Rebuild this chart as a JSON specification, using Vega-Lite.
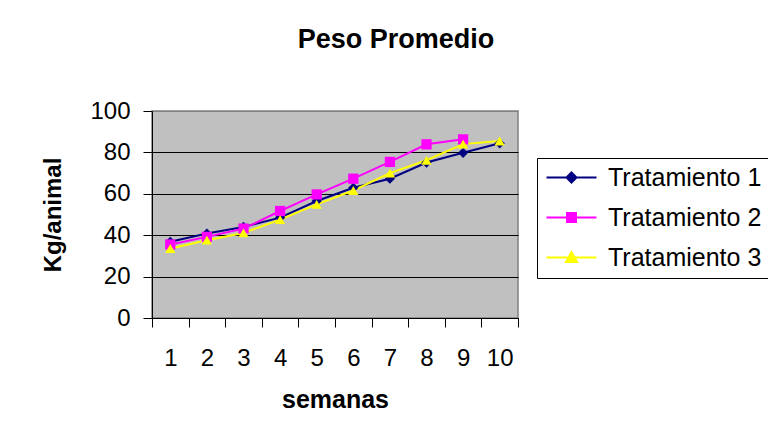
{
  "$schema": "https://vega.github.io/schema/vega-lite/v6.json",
  "autosize": {"type": "none"},
  "width": 366,
  "height": 207,
  "padding": {"left": 152, "top": 111, "right": 250, "bottom": 122},
  "background": "white",
  "title": {
    "text": "Peso Promedio",
    "font": "Liberation Sans",
    "fontSize": 27,
    "fontWeight": "bold",
    "color": "black",
    "anchor": "middle",
    "frame": "group",
    "baseline": "alphabetic",
    "dx": 61,
    "offset": 24
  },
  "config": {
    "view": {"fill": "#C0C0C0", "stroke": "#808080", "strokeWidth": 1.5},
    "font": "Liberation Sans"
  },
  "data": {
    "values": [
      {"semana": 1, "serie": "Tratamiento 1", "peso": 36.8},
      {"semana": 2, "serie": "Tratamiento 1", "peso": 40.8},
      {"semana": 3, "serie": "Tratamiento 1", "peso": 44.0},
      {"semana": 4, "serie": "Tratamiento 1", "peso": 48.5},
      {"semana": 5, "serie": "Tratamiento 1", "peso": 56.5},
      {"semana": 6, "serie": "Tratamiento 1", "peso": 62.9},
      {"semana": 7, "serie": "Tratamiento 1", "peso": 67.3},
      {"semana": 8, "serie": "Tratamiento 1", "peso": 75.1},
      {"semana": 9, "serie": "Tratamiento 1", "peso": 79.8},
      {"semana": 10, "serie": "Tratamiento 1", "peso": 84.4},
      {"semana": 1, "serie": "Tratamiento 2", "peso": 35.5},
      {"semana": 2, "serie": "Tratamiento 2", "peso": 39.2},
      {"semana": 3, "serie": "Tratamiento 2", "peso": 43.2},
      {"semana": 4, "serie": "Tratamiento 2", "peso": 51.7},
      {"semana": 5, "serie": "Tratamiento 2", "peso": 59.7},
      {"semana": 6, "serie": "Tratamiento 2", "peso": 67.3},
      {"semana": 7, "serie": "Tratamiento 2", "peso": 75.4},
      {"semana": 8, "serie": "Tratamiento 2", "peso": 83.9},
      {"semana": 9, "serie": "Tratamiento 2", "peso": 86.3},
      {"semana": 1, "serie": "Tratamiento 3", "peso": 33.6},
      {"semana": 2, "serie": "Tratamiento 3", "peso": 37.6},
      {"semana": 3, "serie": "Tratamiento 3", "peso": 41.1},
      {"semana": 4, "serie": "Tratamiento 3", "peso": 47.5},
      {"semana": 5, "serie": "Tratamiento 3", "peso": 54.9},
      {"semana": 6, "serie": "Tratamiento 3", "peso": 61.6},
      {"semana": 7, "serie": "Tratamiento 3", "peso": 70.0},
      {"semana": 8, "serie": "Tratamiento 3", "peso": 76.2},
      {"semana": 9, "serie": "Tratamiento 3", "peso": 84.0},
      {"semana": 10, "serie": "Tratamiento 3", "peso": 85.5}
    ]
  },
  "encoding": {
    "y": {
      "field": "peso",
      "type": "quantitative",
      "scale": {"domain": [0, 100], "nice": false, "zero": true},
      "axis": {
        "title": "Kg/animal",
        "titleFont": "Liberation Sans",
        "titleFontSize": 24,
        "titleFontWeight": "bold",
        "titleColor": "black",
        "titlePadding": 24,
        "values": [0, 20, 40, 60, 80, 100],
        "labelFont": "Liberation Sans",
        "labelFontSize": 24,
        "labelColor": "black",
        "labelPadding": 13,
        "tickSize": 9,
        "tickColor": "black",
        "tickWidth": 1,
        "domainColor": "black",
        "domainWidth": 1,
        "grid": true,
        "gridColor": {"condition": {"test": "datum.value === 100", "value": "#808080"}, "value": "black"},
        "gridWidth": 1,
        "gridOpacity": 1
      }
    },
    "color": {
      "field": "serie",
      "type": "nominal",
      "scale": {
        "domain": ["Tratamiento 1", "Tratamiento 2", "Tratamiento 3"],
        "range": ["#000080", "#FF00FF", "#FFFF00"]
      },
      "legend": {
        "title": null,
        "orient": "none",
        "legendX": 385,
        "legendY": 47,
        "strokeColor": "black",
        "fillColor": "white",
        "padding": 7,
        "labelFont": "Liberation Sans",
        "labelFontSize": 25,
        "labelColor": "black",
        "labelLimit": 0,
        "symbolSize": 100,
        "symbolStrokeWidth": 2,
        "symbolOffset": 15,
        "labelOffset": 24,
        "rowPadding": 14,
        "encode": {
          "symbols": {
            "update": {
              "shape": {"signal": "datum.value == 'Tratamiento 1' ? 'M-5,0H5M0,-1L1,0L0,1L-1,0Z' : datum.value == 'Tratamiento 2' ? 'M-5,0H5M-0.9,-0.9H0.9V0.9H-0.9Z' : 'M-5,0H5M0,-1.1L1.1,0.9H-1.1Z'"},
              "fill": {"scale": "color", "field": "value"},
              "stroke": {"scale": "color", "field": "value"},
              "strokeWidth": {"value": 2},
              "size": {"value": 100},
              "opacity": {"value": 1},
              "fillOpacity": {"value": 1}
            }
          }
        }
      }
    }
  },
  "layer": [
    {
      "mark": {"type": "line", "strokeWidth": 2},
      "encoding": {
        "x": {
          "field": "semana",
          "type": "quantitative",
          "scale": {"domain": [0.5, 10.5], "nice": false, "zero": false},
          "axis": {
            "orient": "bottom",
            "title": null,
            "values": [1, 2, 3, 4, 5, 6, 7, 8, 9, 10],
            "ticks": false,
            "domain": false,
            "grid": false,
            "labelFont": "Liberation Sans",
            "labelFontSize": 24,
            "labelColor": "black",
            "labelPadding": 28
          }
        }
      }
    },
    {
      "mark": {"type": "point", "filled": true, "opacity": 1, "size": 105},
      "encoding": {
        "x": {
          "field": "semana",
          "type": "quantitative",
          "axis": {
            "orient": "bottom",
            "title": "semanas",
            "titleFont": "Liberation Sans",
            "titleFontSize": 25,
            "titleFontWeight": "bold",
            "titleColor": "black",
            "titlePadding": 60,
            "values": [0.5, 1.5, 2.5, 3.5, 4.5, 5.5, 6.5, 7.5, 8.5, 9.5, 10.5],
            "labels": false,
            "ticks": true,
            "tickSize": 9,
            "tickColor": "black",
            "tickWidth": 1,
            "domainColor": "black",
            "domainWidth": 1,
            "grid": false
          }
        },
        "shape": {
          "condition": [
            {"test": "datum.serie === 'Tratamiento 1'", "value": "diamond"},
            {"test": "datum.serie === 'Tratamiento 2'", "value": "square"}
          ],
          "value": "triangle-up"
        }
      }
    }
  ],
  "resolve": {"axis": {"x": "independent"}}
}
